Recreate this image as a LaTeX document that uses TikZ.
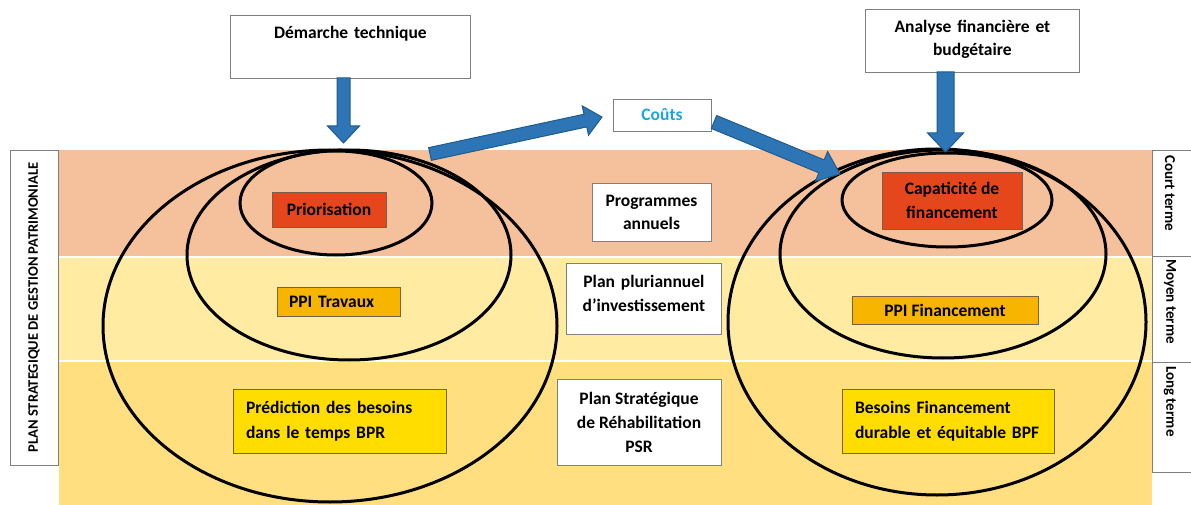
\documentclass[tikz,border=0pt]{standalone}
\usepackage{fontspec}
\setmainfont{Carlito}
\usetikzlibrary{calc,shapes.geometric}
\definecolor{bandA}{HTML}{F5C19C}
\definecolor{bandB}{HTML}{FFEBA2}
\definecolor{bandC}{HTML}{FFDF80}
\definecolor{redbox}{HTML}{E5461B}
\definecolor{ambox}{HTML}{F7B500}
\definecolor{yelbox}{HTML}{FFDD00}
\definecolor{arrowblue}{HTML}{2E75B6}
\definecolor{arrowdark}{HTML}{1F5B8E}
\definecolor{cyantext}{HTML}{1DA5DC}
\definecolor{boxline}{HTML}{7F7F7F}
\definecolor{colline}{HTML}{7A6048}
\newcommand\fatarrow[5]{%
  \path[fatarr] let \p1=(#1), \p2=(#2),
    \n1={atan2(\y2-\y1,\x2-\x1)},
    \n2={veclen(\x2-\x1,\y2-\y1)-#5} in
    ($(\p1)+(\n1+90:#3pt)$) -- ($(\p1)+(\n1:\n2)+(\n1+90:#3pt)$)
    -- ($(\p1)+(\n1:\n2)+(\n1+90:#4pt)$) -- (\p2)
    -- ($(\p1)+(\n1:\n2)+(\n1-90:#4pt)$) -- ($(\p1)+(\n1:\n2)+(\n1-90:#3pt)$)
    -- ($(\p1)+(\n1-90:#3pt)$) -- cycle;}
\begin{document}
\begin{tikzpicture}[x=1pt,y=-1pt,
  every node/.style={font=\bfseries\fontsize{17.5}{24}\selectfont},
  wbox/.style={draw=boxline, line width=0.8pt, fill=white, inner sep=0pt, align=center},
  cbox/.style={draw=colline, line width=0.8pt, inner sep=0pt, align=center},
  ring/.style={ellipse, draw=black, line width=3pt, inner sep=0pt},
  fatarr/.style={fill=arrowblue, draw=arrowdark, line width=1pt, line join=miter},
  termtxt/.style={rotate=-90, anchor=west, inner sep=0pt, font=\bfseries\fontsize{15}{18}\selectfont}]
\useasboundingbox (0,0) rectangle (1191,505);
% bands
\fill[bandA] (59,150) rectangle (1152,257);
\fill[bandB] (59,257) rectangle (1152,361);
\fill[bandC] (59,361) rectangle (1152,505);
\draw[white, line width=2pt] (59,257) -- (1152,257);
\draw[white, line width=2pt] (59,361) -- (1152,361);
% left title box
\node[wbox, rotate=90, minimum width=315pt, minimum height=48pt,
  font=\bfseries\fontsize{14.5}{17}\selectfont] (psgp) at (34,307.5)
  {PLAN STRATEGIQUE DE GESTION PATRIMONIALE};
% right term boxes
\draw[boxline, line width=0.8pt, fill=white] (1152,150) rectangle (1200,256);
\draw[boxline, line width=0.8pt, fill=white] (1152,256) rectangle (1200,362);
\draw[boxline, line width=0.8pt, fill=white] (1152,362) rectangle (1200,472);
\node[termtxt] (ct) at (1170,155) {Court terme};
\node[termtxt] (mt) at (1170,259) {Moyen terme};
\node[termtxt] (lt) at (1170,366) {Long terme};
% ellipses
\node[ring, minimum width=454pt, minimum height=352pt] (L1) at (330,326) {};
\node[ring, minimum width=324pt, minimum height=210pt] (L2) at (349,255) {};
\node[ring, minimum width=192pt, minimum height=104pt] (L3) at (336,203) {};
\node[ring, minimum width=418pt, minimum height=346pt] (R1) at (937,322) {};
\node[ring, minimum width=326pt, minimum height=208pt] (R2) at (943,254) {};
\node[ring, minimum width=210pt, minimum height=94pt] (R3) at (947,200) {};
% top boxes
\node[wbox, anchor=north west, text width=240pt, text height=23pt, text depth=40pt] (dem) at (230,15) {Démarche technique};
\node[wbox, anchor=north west, text width=214pt, text height=23.5pt, text depth=39.5pt,
  font=\bfseries\fontsize{17.5}{23}\selectfont] (ana) at (865,9) {Analyse financière et\\budgétaire};
\node[wbox, minimum width=98pt, minimum height=32pt, text=cyantext] (cout) at (662,115) {Coûts};
% middle boxes
\node[wbox, minimum width=119pt, minimum height=58pt, font=\bfseries\fontsize{17.5}{23}\selectfont] (prog) at (651.5,212) {Programmes\\annuels};
\node[wbox, anchor=north west, text width=155pt, text height=24.5pt, text depth=46.5pt] (ppi) at (566,263) {Plan pluriannuel\\d’investissement};
\node[wbox, minimum width=164pt, minimum height=86pt] (psr) at (639,422) {Plan Stratégique\\de Réhabilitation\\PSR};
% left coloured boxes
\node[cbox, fill=redbox, minimum width=114pt, minimum height=35pt] (prio) at (329,209.5) {Priorisation};
\node[cbox, fill=ambox, minimum height=29pt, text width=99pt, inner xsep=12pt, align=left] (ppit) at (338.5,301.5) {PPI Travaux};
\node[cbox, fill=yelbox, minimum height=64pt, text width=187pt, inner xsep=13pt, align=left, font=\bfseries\fontsize{17.5}{25}\selectfont] (bpr) at (339.5,421) {Prédiction des besoins\\dans le temps BPR};
% right coloured boxes
\node[cbox, fill=redbox, minimum width=140pt, minimum height=57pt] (cap) at (952,200.5) {Capaticité de\\financement};
\node[cbox, fill=ambox, minimum width=186pt, minimum height=28pt] (ppif) at (945,310) {PPI Financement};
\node[cbox, fill=yelbox, minimum height=64pt, text width=186pt, inner xsep=13pt, align=left, font=\bfseries\fontsize{17.5}{25}\selectfont] (bpf) at (948,421) {Besoins Financement\\durable et équitable BPF};
% arrows
\coordinate (a1s) at (343.5,78);
\coordinate (a1e) at (343.5,143);
\coordinate (a2s) at (945.5,72);
\coordinate (a2e) at (945.5,152);
\coordinate (a3s) at (430,154);
\coordinate (a3e) at (602,117);
\coordinate (a4s) at (714,122);
\coordinate (a4e) at (840,174);
\fatarrow{a1s}{a1e}{6.5}{16}{17}
\fatarrow{a2s}{a2e}{8.5}{18}{19}
\fatarrow{a3s}{a3e}{6.5}{15}{17}
\fatarrow{a4s}{a4e}{7}{16}{20}
\end{tikzpicture}
\end{document}
